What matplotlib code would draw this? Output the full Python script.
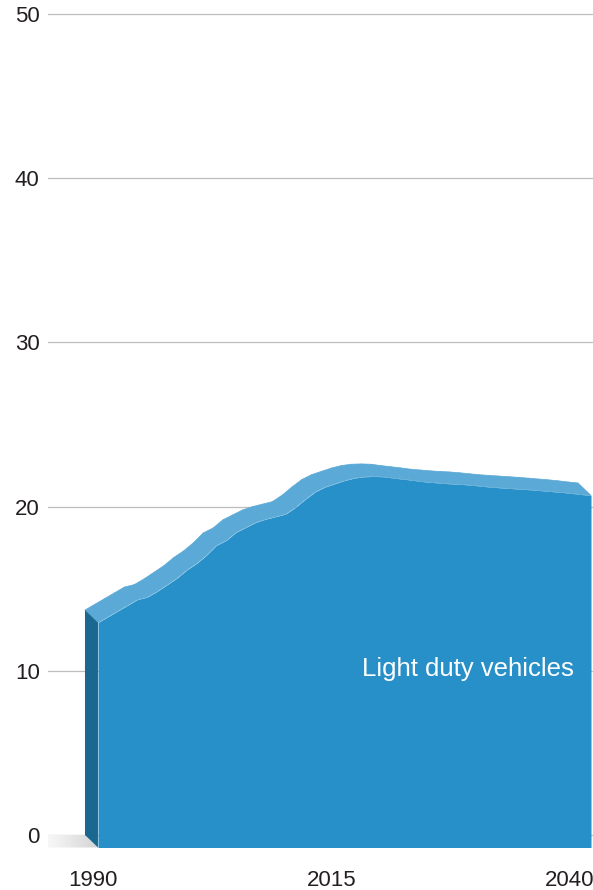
import numpy as np
import matplotlib
matplotlib.use("Agg")
import matplotlib.pyplot as plt
from matplotlib.patches import Polygon
from matplotlib.collections import PolyCollection
from matplotlib.transforms import ScaledTranslation

plt.rcParams['font.family'] = ['Liberation Sans', 'DejaVu Sans']

# Light duty vehicles, annual values
years = np.arange(1990, 2041)
values = [13.7, 14.05, 14.4, 14.75, 15.1, 15.25, 15.6, 16.0, 16.4, 16.9,
          17.3, 17.8, 18.4, 18.7, 19.2, 19.5, 19.8, 20.0, 20.15, 20.3,
          20.7, 21.2, 21.65, 21.95, 22.15, 22.35, 22.5, 22.58, 22.6, 22.58,
          22.5, 22.43, 22.36, 22.28, 22.23, 22.18, 22.14, 22.11, 22.06, 22.0,
          21.94, 21.9, 21.86, 21.82, 21.78, 21.73, 21.68, 21.63, 21.57, 21.5,
          21.44]
y_ticks = [0, 10, 20, 30, 40, 50]
x_ticks = [1990, 2015, 2040]
x_labels = ['1990', '2015', '2040']
series_label = 'Light duty vehicles'

col_front = '#2790c9'
col_top = '#5ba9d6'
col_side = '#1a6890'

W, H = 593, 890
fig = plt.figure(figsize=(W / 100, H / 100), dpi=100)

# axes placed in pixels: value 0 at y=835, 10 units = 164.2 px
ppu = 16.42
ymin, ymax = -1.6, 50.6
bot_px = 835 + (-ymin) * ppu
top_px = 835 - ymax * ppu
left_px = 48
ax = fig.add_axes([left_px / W, (H - bot_px) / H, (W - left_px) / W, (bot_px - top_px) / H])
ax.set_xlim(1986.25, 2041.52)
ax.set_ylim(ymin, ymax)

# depth offset of the extrusion (13 px right, 12.5 px down) in data units
p0 = ax.transData.transform((0, 0))
p1 = ax.transData.transform((1, 1))
dx = 13 / (p1[0] - p0[0])
dy = 12.5 / (p1[1] - p0[1])

x = years.astype(float)
v = np.array(values)

# floor shadow
grad = np.linspace(0, 0.28, 100).reshape(1, -1)
im = ax.imshow(grad, cmap='Greys', vmin=0, vmax=1, aspect='auto',
               extent=[1984.5, x[0] + dx, -dy, 0], zorder=1)
clip = Polygon([(1984.5, 0), (x[0], 0), (x[0] + dx, -dy), (1984.5, -dy)],
               closed=True, transform=ax.transData)
im.set_clip_path(clip)

# top face
quads = []
for i in range(len(x) - 1):
    quads.append([(x[i], v[i]), (x[i + 1], v[i + 1]),
                  (x[i + 1] + dx, v[i + 1] - dy), (x[i] + dx, v[i] - dy)])
ax.add_collection(PolyCollection(quads, facecolors=col_top, edgecolors=col_top,
                                 linewidths=0.5, zorder=2))

# left side face
ax.add_patch(Polygon([(x[0], 0), (x[0], v[0]), (x[0] + dx, v[0] - dy), (x[0] + dx, -dy)],
                     closed=True, facecolor=col_side, edgecolor='none', zorder=3))

# front face
ax.fill_between(x + dx, -dy, v - dy, color=col_front, linewidth=0, zorder=4)

ax.text(2028.8, 9.68, series_label, color='white', fontsize=18.5,
        ha='center', va='baseline', zorder=5)

ax.set_yticks(y_ticks)
ax.set_xticks(x_ticks)
ax.set_xticklabels(x_labels)
ax.tick_params(axis='y', length=0, pad=6, labelsize=16, labelcolor='#231f20')
ax.tick_params(axis='x', length=0, pad=6, labelsize=16, labelcolor='#231f20')
for lbl, off in zip(ax.get_xticklabels(), [8, 0, -8]):
    lbl.set_transform(lbl.get_transform() + ScaledTranslation(off / 100, 0, fig.dpi_scale_trans))

ax.grid(axis='y', color='#bdbdbd', linewidth=0.9)
ax.set_axisbelow(True)
for s in ax.spines.values():
    s.set_visible(False)

fig.savefig('out.png', dpi=100)
